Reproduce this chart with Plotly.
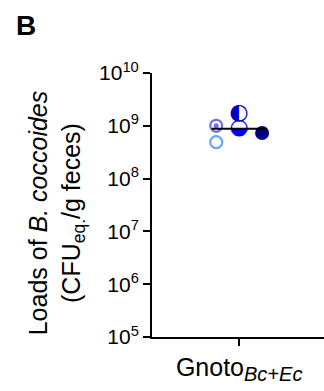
import numpy as np
import plotly.graph_objects as go

# ---- data ----
group_label = "Gnoto<sub><span style='font-size:20px'><i>Bc+Ec</i></span></sub>"
loads = [4.9e8, 1.0e9, 1.7e9, 8.8e8, 7.3e8]          # CFU_eq./g feces
column = [-1, -1, 0, 0, 1]                              # jitter column of each mouse
point_style = ["open", "open-dot", "half-left", "half-lower", "filled"]
point_color = ["#62a8ff", "#6c6cf4", "#0000c8", "#0000ff", "#000080"]
y_tick_exponents = [5, 6, 7, 8, 9, 10]

FONT = "Liberation Sans, Arial, sans-serif"
col_step = 0.5
median = float(np.median(loads))

fig = go.Figure()

for v, c, s, col in zip(loads, column, point_style, point_color):
    xx = c * col_step
    if s in ("open", "open-dot"):
        fig.add_trace(go.Scatter(
            x=[xx], y=[v], mode="markers",
            marker=dict(symbol="circle-open", size=12, color=col,
                        line=dict(width=2.2, color=col)),
            showlegend=False, hoverinfo="skip"))
        if s == "open-dot":
            fig.add_trace(go.Scatter(
                x=[xx], y=[v], mode="markers",
                marker=dict(symbol="circle", size=5, color=col,
                            line=dict(width=0)),
                showlegend=False, hoverinfo="skip"))
    elif s == "filled":
        fig.add_trace(go.Scatter(
            x=[xx], y=[v], mode="markers",
            marker=dict(symbol="circle", size=14, color=col,
                        line=dict(width=0)),
            showlegend=False, hoverinfo="skip"))
    else:
        glyph = "\u25D0" if s == "half-left" else "\u25D2"
        fig.add_trace(go.Scatter(
            x=[xx], y=[v], mode="text", text=[glyph],
            textposition="middle center",
            textfont=dict(family="DejaVu Sans", size=22, color=col),
            showlegend=False, hoverinfo="skip"))

# median line
fig.add_trace(go.Scatter(
    x=[-1.2 * col_step, 1.2 * col_step], y=[median, median], mode="lines",
    line=dict(color="black", width=2), showlegend=False, hoverinfo="skip"))

fig.update_layout(
    width=324, height=391,
    margin=dict(l=152, r=0, t=73, b=54),
    paper_bgcolor="white", plot_bgcolor="white",
    font=dict(family=FONT, color="black"),
    xaxis=dict(range=[-1.9, 1.85], tickvals=[0], ticktext=[group_label],
               showline=True, linecolor="black", linewidth=2,
               ticks="outside", ticklen=7, tickwidth=2, tickcolor="black",
               tickfont=dict(size=25, family=FONT), showgrid=False, zeroline=False),
    yaxis=dict(type="log", range=[5, 10],
               tickvals=[10 ** e for e in y_tick_exponents],
               ticktext=[f"10<sup>{e}</sup>" for e in y_tick_exponents],
               showline=True, linecolor="black", linewidth=2,
               ticks="outside", ticklen=7, tickwidth=2, tickcolor="black",
               tickfont=dict(size=21, family=FONT), showgrid=False, zeroline=False),
    annotations=[
        dict(text="<b>B</b>", xref="paper", yref="paper", x=-0.8, y=1.245,
             xanchor="left", yanchor="top", showarrow=False,
             font=dict(size=28, family=FONT)),
        dict(text="Loads of <i>B. coccoides</i><br>(CFU<sub>eq.</sub>/g feces)",
             xref="paper", yref="paper", x=-0.55, y=0.47, textangle=-90,
             xanchor="center", yanchor="middle", showarrow=False,
             font=dict(size=25, family=FONT)),
    ],
)

fig.write_html("out.html")
